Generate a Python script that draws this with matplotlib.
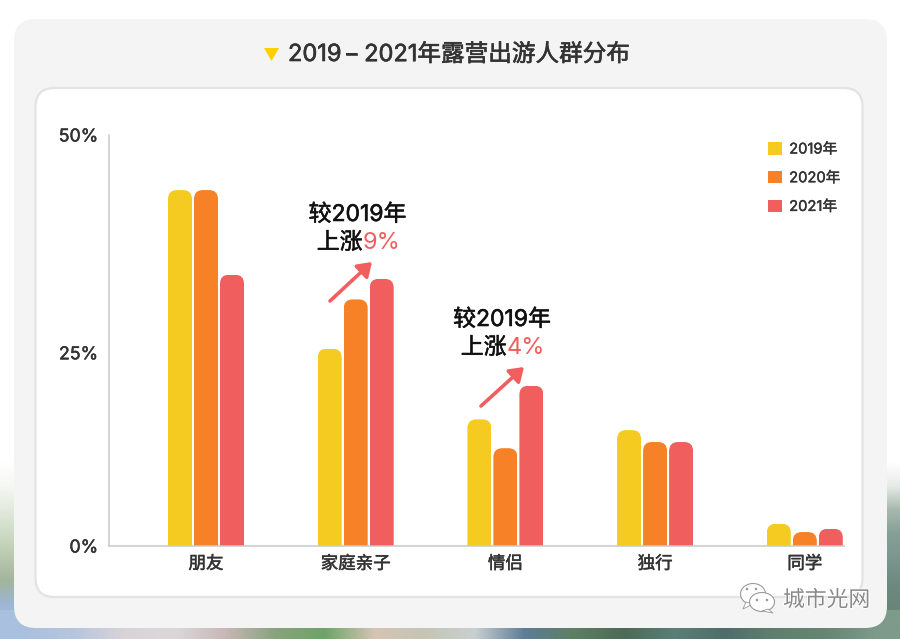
import numpy as np
import matplotlib
matplotlib.use("Agg")
import matplotlib.pyplot as plt
from matplotlib.colors import to_rgb
from matplotlib.patches import FancyBboxPatch, Polygon, Ellipse, FancyArrowPatch, Patch
from matplotlib.transforms import IdentityTransform
import matplotlib.patheffects as pe

plt.rcParams['font.family'] = ['Inter', 'Noto Sans CJK SC', 'DejaVu Sans']

categories = ['朋友', '家庭亲子', '情侣', '独行', '同学']
years = ['2019年', '2020年', '2021年']
v2019 = [43.3, 24.0, 15.4, 14.1, 2.7]
v2020 = [43.3, 30.0, 11.9, 12.65, 1.7]
v2021 = [33.0, 32.5, 19.5, 12.65, 2.1]
colors = ['#f5cb22', '#f78126', '#f15e5e']

# blurred photo behind the card, only a rough colour strip
left_strip = ['#ffffff', '#f6f8f4', '#e3eade', '#cfdbc6', '#b9c9ae', '#a3b59c', '#9db6d4', '#a9c0de']
right_strip = ['#ffffff', '#e8ece8', '#a9b9ae', '#86a098', '#7d9690', '#6f8b82', '#6a8679', '#678375']
bottom_strip = ['#a9c0de', '#b8c6dc', '#d9d3d8', '#dcd8da', '#c8b8b8', '#8aa27f', '#6da468', '#d5c4b5',
                '#c5c5b5', '#c8d0d0', '#5f7c95', '#5d7f62', '#4d6a58', '#5a7f76', '#4f6d6a', '#60806f',
                '#668573', '#7d9a8a']

fig = plt.figure(figsize=(9, 6.39), dpi=100)
fig.patch.set_facecolor('white')

# pixel canvas for card and decorations
bg = fig.add_axes([0, 0, 1, 1], zorder=0)
bg.set_xlim(0, 900)
bg.set_ylim(639, 0)
bg.axis('off')

def strip(cols, extent, vertical=True):
    arr = np.array([to_rgb(c) for c in cols])
    arr = arr[:, None, :] if vertical else arr[None, :, :]
    bg.imshow(arr, extent=extent, aspect='auto', interpolation='bilinear', zorder=0)

def thick(w=0.35, c='#333333'):
    # no medium weight installed, a thin stroke gets close
    return [pe.withStroke(linewidth=w, foreground=c)]

strip(left_strip, (0, 40, 640, 450))
strip(right_strip, (860, 900, 640, 450))
strip(bottom_strip, (0, 900, 640, 610), vertical=False)
bg.set_xlim(0, 900)
bg.set_ylim(639, 0)

bg.add_patch(FancyBboxPatch((14, 19), 873, 609, boxstyle='round,pad=0,rounding_size=22',
                            fc='#f4f4f4', ec='none', zorder=1))
bg.add_patch(FancyBboxPatch((35.5, 88), 827, 509, boxstyle='round,pad=0,rounding_size=19',
                            fc='white', ec='#e3e3e3', lw=1.6, zorder=2))

# title, three pieces because the dash has wider gaps in the original
bg.add_patch(Polygon([(264, 48), (279, 48), (271.5, 61)], closed=True, fc='#ffd000', ec='none', zorder=3))
title_style = dict(fontsize=17, color='#333333', va='center', zorder=3, path_effects=thick(0.45))
bg.text(288, 55, '2019', ha='left', **title_style)
bg.text(351.5, 55, '–', ha='center', **title_style)
bg.text(630, 55, '2021年露营出游人群分布', ha='right', **title_style)

# chart
L, R, T, B = 108.5, 844.0, 135.0, 546.0
ax = fig.add_axes([L / 900, 1 - B / 639, (R - L) / 900, (B - T) / 639], zorder=1)
ax.patch.set_visible(False)
group_px = 149.7
bar_w = 24 / group_px
step = 26 / group_px
ax.set_xlim((L - 206) / group_px, (R - 206) / group_px)
ax.set_ylim(0, 50)

x = np.arange(len(categories))
for i, (vals, c) in enumerate(zip([v2019, v2020, v2021], colors)):
    bars = ax.bar(x + (i - 1) * step, vals, bar_w, color=c)
    for b in bars:
        (x0, y0), (x1, y1) = ax.transData.transform([(b.get_x(), 0), (b.get_x() + b.get_width(), b.get_height())])
        clip = FancyBboxPatch((x0, y0 - 30), x1 - x0, y1 - y0 + 30, boxstyle='round,pad=0,rounding_size=9',
                              transform=IdentityTransform())
        b.set_clip_path(clip)

for s in ['top', 'right']:
    ax.spines[s].set_visible(False)
for s in ['left', 'bottom']:
    ax.spines[s].set_color('#c9c9c9')
    ax.spines[s].set_linewidth(1.1)

ax.set_xticks(x)
ax.set_xticklabels(categories, fontsize=12.6, color='#333333', path_effects=thick())
# the 25% label sits lower than the true middle in the original
ax.set_yticks([0, 23.5, 50])
ax.set_yticklabels(['0%', '25%', '50%'], fontsize=12.8, color='#333333', path_effects=thick())
ax.tick_params(axis='both', length=0)
ax.tick_params(axis='x', pad=7)
ax.tick_params(axis='y', pad=7.5)

handles = [Patch(fc=c, ec='none') for c in colors]
leg = fig.legend(handles, years, loc='upper left', bbox_to_anchor=(755 / 900, 1 - 129 / 639), frameon=False,
                 handlelength=0.92, handleheight=0.92, handletextpad=0.5, labelspacing=0.98,
                 labelcolor='#333333', prop={'size': 10.6})
for t in leg.get_texts():
    t.set_path_effects(thick(0.3))

# callouts
over = fig.add_axes([0, 0, 1, 1], zorder=2)
over.set_xlim(0, 900)
over.set_ylim(639, 0)
over.axis('off')

def callout(cx, cy, split, pct, a0, a1):
    over.text(cx, cy, '较2019年', fontsize=16.5, color='#111111', ha='center', va='center',
              path_effects=thick(0.4, '#111111'))
    over.text(split, cy + 28, '上涨', fontsize=16.5, color='#111111', ha='right', va='center',
              path_effects=thick(0.4, '#111111'))
    over.text(split, cy + 28, pct, fontsize=17, color='#f15e5e', ha='left', va='center')
    over.add_patch(FancyArrowPatch(a0, a1, arrowstyle='-|>,head_length=5,head_width=3.4', mutation_scale=1.6,
                                   color='#f15e5e', lw=2.6, shrinkA=0, shrinkB=0))

callout(357.5, 215, 362.5, '9%', (330, 301), (372, 262))
callout(502, 320, 506.5, '4%', (481, 406), (524, 367))

# watermark
wm = '#9a9a9a'
over.add_patch(Ellipse((753, 594), 25, 21, fc='white', ec=wm, lw=0.8))
over.add_patch(Polygon([(746, 602), (743, 609), (753, 604)], closed=True, fc='white', ec=wm, lw=0.6))
over.add_patch(Ellipse((762, 602), 25, 19, fc='white', ec=wm, lw=0.8))
over.add_patch(Polygon([(768, 609), (773, 613), (762, 611)], closed=True, fc='white', ec=wm, lw=0.6))
for px, py in [(747, 589), (756, 589), (757, 600), (767, 600)]:
    over.add_patch(Ellipse((px, py), 2.6, 2.6, fc=wm, ec='none'))
over.text(783, 600, '城市光网', fontsize=15.7, color='#8a8a8a', ha='left', va='center',
          path_effects=[pe.withStroke(linewidth=1.2, foreground='white')])

fig.savefig('out.png', dpi=100)
